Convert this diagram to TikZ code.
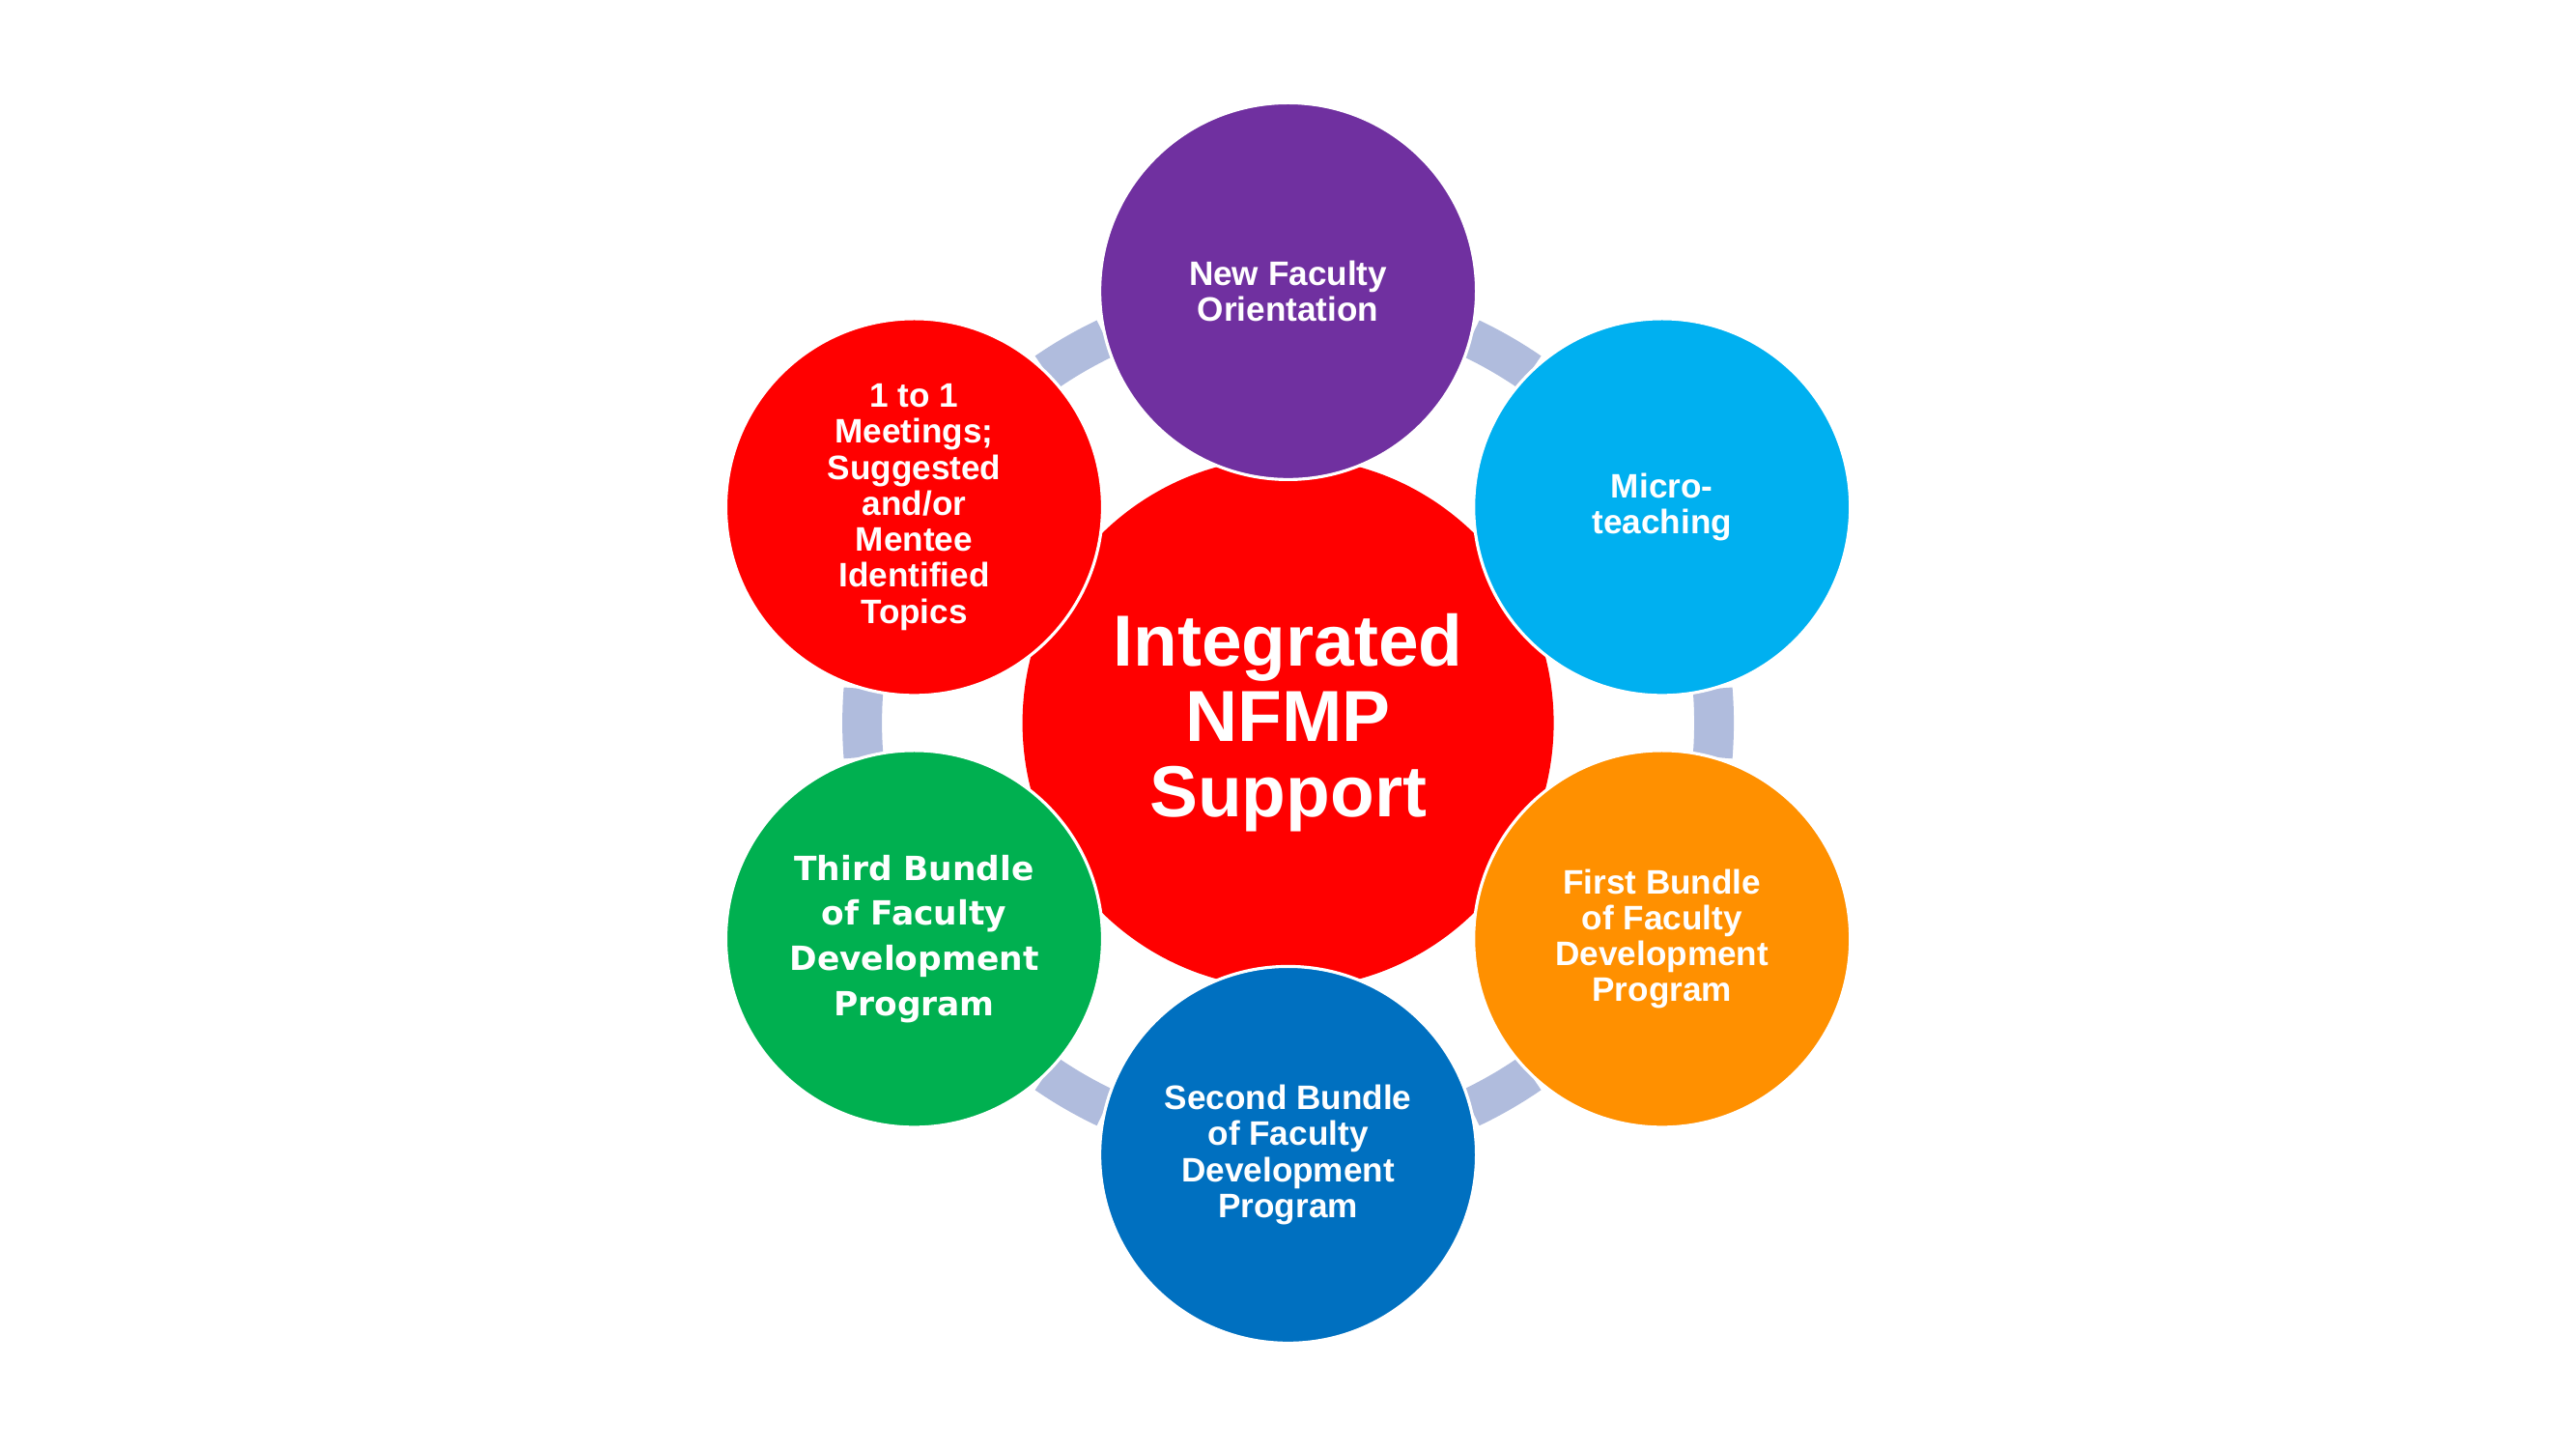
\documentclass[tikz,border=0pt]{standalone}
\usepackage{fontspec}
\setmainfont{Liberation Sans}
\newfontfamily\verdanafont{DejaVu Sans}
\usepackage{tikz}
\usetikzlibrary{calc}
\definecolor{nfred}{HTML}{FF0000}
\definecolor{nfpurple}{HTML}{7030A0}
\definecolor{nfcyan}{HTML}{00B0F0}
\definecolor{nforange}{HTML}{FF9000}
\definecolor{nfblue}{HTML}{0070C0}
\definecolor{nfgreen}{HTML}{00B050}
\definecolor{nfband}{HTML}{B0BCDD}

\begin{document}
\begin{tikzpicture}[
  hub/.style={circle, fill=nfred, minimum size=5.5cm, inner sep=0pt,
    text=white, align=center,
    font=\fontsize{21.3}{22.2}\selectfont\bfseries},
  bubble/.style={circle, draw=white, line width=0.9pt, minimum size=3.9cm,
    inner sep=0pt, text=white, align=center,
    font=\fontsize{10}{10.6}\selectfont\bfseries},
  link/.style={draw=nfband, line width=0.41cm}
]
  \useasboundingbox (-13.336,-7.516) rectangle (13.334,7.484);

  % Nodo centrale
  \node[hub] (hub) at (0,0) {Integrated\\NFMP\\Support};

  % --- anello ---
  \foreach \a in {0,60,...,300}
    \draw[link] (hub.center) ++(\a-4.6:4.41) arc[start angle=\a-4.6, end angle=\a+4.6, radius=4.41];

  % --- cerchi esterni ---
  \node[bubble, fill=nfpurple] (orient) at (90:4.47) {New Faculty\\Orientation};
  \node[bubble, fill=nfcyan] (micro) at (30:4.47) {Micro-\\teaching};
  \node[bubble, fill=nforange] (first) at (-30:4.47) {First Bundle\\of Faculty\\Development\\Program};
  \node[bubble, fill=nfblue] (second) at (-90:4.47) {Second Bundle\\of Faculty\\Development\\Program};
  \node[bubble, fill=nfgreen, font=\verdanafont\fontsize{9.8}{13.3}\selectfont\bfseries] (third) at (-150:4.47)
    {Third Bundle\\of Faculty\\Development\\Program};
  \node[bubble, fill=nfred] (meet) at (150:4.47)
    {1 to 1\\Meetings;\\Suggested\\and/or\\Mentee\\Identified\\Topics};
\end{tikzpicture}
\end{document}
